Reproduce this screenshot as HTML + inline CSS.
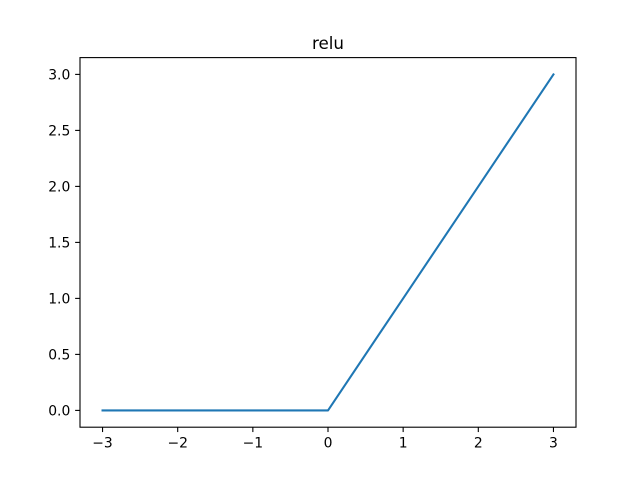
<!DOCTYPE html>
<html><head><meta charset="utf-8"><style>
html,body{margin:0;padding:0;background:#fff;}
svg{display:block;font-family:"DejaVu Sans","Liberation Sans",sans-serif;}
</style></head><body>
<svg id="chart" width="640" height="480" viewBox="0 0 640 480">
<rect x="0" y="0" width="640" height="480" fill="#fff"/>
<text x="328" y="49" text-anchor="middle" font-size="16.7" fill="#000">relu</text>
<g id="xticks"></g>
<g id="yticks"></g>
<path id="line" fill="none" stroke="#1f77b4" stroke-width="2.08" stroke-linejoin="round" stroke-linecap="square"/>
<rect x="80" y="57.6" width="496" height="369.6" fill="none" stroke="#000" stroke-width="1.1"/>
</svg>
<script>
const xValues = [-3, -2, -1, 0, 1, 2, 3];
const yValues = [0, 0, 0, 0, 1, 2, 3];
const xTickValues = [-3, -2, -1, 0, 1, 2, 3];
const xTickLabels = ["\u22123", "\u22122", "\u22121", "0", "1", "2", "3"];
const yTickValues = [0, 0.5, 1, 1.5, 2, 2.5, 3];
const yTickLabels = ["0.0", "0.5", "1.0", "1.5", "2.0", "2.5", "3.0"];

const L = 80, R = 576, T = 57.6, B = 427.2;
const xmin = Math.min(...xValues), xmax = Math.max(...xValues);
const ymin = Math.min(...yValues), ymax = Math.max(...yValues);
const xpad = (xmax - xmin) * 0.05, ypad = (ymax - ymin) * 0.05;
function sx(v){ return L + (v - (xmin - xpad)) / ((xmax + xpad) - (xmin - xpad)) * (R - L); }
function sy(v){ return B - (v - (ymin - ypad)) / ((ymax + ypad) - (ymin - ypad)) * (B - T); }
const NS = "http://www.w3.org/2000/svg";

const xg = document.getElementById('xticks');
xTickValues.forEach((v, i) => {
  const x = sx(v);
  const t = document.createElementNS(NS, 'line');
  t.setAttribute('x1', x); t.setAttribute('x2', x);
  t.setAttribute('y1', B); t.setAttribute('y2', B + 4.86);
  t.setAttribute('stroke', '#000'); t.setAttribute('stroke-width', '1.1');
  
  
  xg.appendChild(t);
  const tx = document.createElementNS(NS, 'text');
  tx.setAttribute('x', x); tx.setAttribute('y', B + 20.5);
  tx.setAttribute('text-anchor', 'middle'); tx.setAttribute('font-size', '13.9');
  tx.textContent = xTickLabels[i];
  
  
  xg.appendChild(tx);
});
const yg = document.getElementById('yticks');
yTickValues.forEach((v, i) => {
  const y = sy(v);
  const t = document.createElementNS(NS, 'line');
  t.setAttribute('x1', L - 4.86); t.setAttribute('x2', L);
  t.setAttribute('y1', y); t.setAttribute('y2', y);
  t.setAttribute('stroke', '#000'); t.setAttribute('stroke-width', '1.1');
  
  
  yg.appendChild(t);
  const tx = document.createElementNS(NS, 'text');
  tx.setAttribute('x', L - 9.7); tx.setAttribute('y', y + 5);
  tx.setAttribute('text-anchor', 'end'); tx.setAttribute('font-size', '13.9');
  tx.textContent = yTickLabels[i];
  
  
  yg.appendChild(tx);
});
document.getElementById('line').setAttribute('d',
  xValues.map((v, i) => (i ? 'L' : 'M') + sx(v).toFixed(2) + ' ' + sy(yValues[i]).toFixed(2)).join(' '));
</script>
</body></html>
